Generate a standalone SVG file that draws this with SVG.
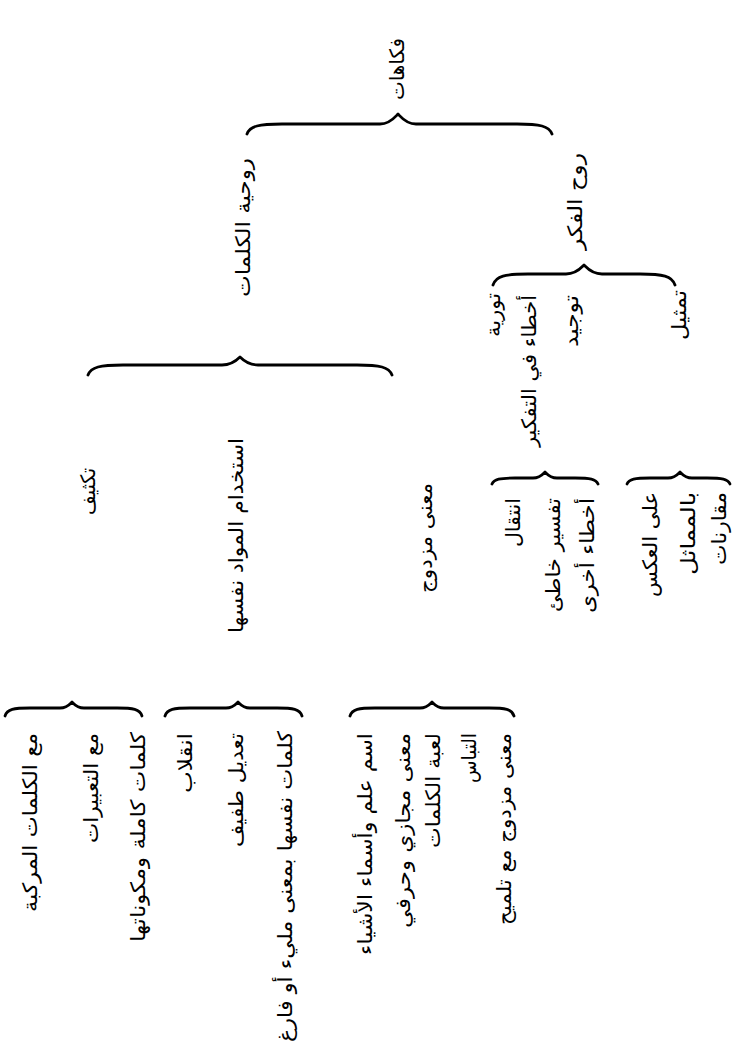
<svg xmlns="http://www.w3.org/2000/svg" width="733" height="1053" viewBox="0 0 733 1053">
<style>
.t{font-family:"DejaVu Sans",sans-serif;font-size:20px;fill:#000;text-anchor:end}
.b{fill:none;stroke:#000;stroke-width:2.8;stroke-linecap:round;stroke-linejoin:round}
</style>
<rect width="733" height="1053" fill="#fff"/>
<g id="connectors">
<path class="b" d="M247,134 C250,126 259,124 282,124 L380,124 C390,124 395,117 398,114 C401,117 406,124 416,124 L517,124 C540,124 549,126 552,134"/>
<path class="b" d="M493,285 C496,276 505,274 528,274 L566,274 C576,274 581,268 584,265 C587,268 592,274 602,274 L640,274 C663,274 672,276 675,285"/>
<path class="b" d="M88,375 C91,367 100,365 123,365 L222,365 C232,365 237,360 240,357 C243,360 248,365 258,365 L357,365 C380,365 389,367 392,375"/>
<path class="b" d="M492,484 C494,479 500,478 515,478 L533,478 C540,478 543,474 545,472 C547,474 550,478 557,478 L575,478 C590,478 596,479 598,484"/>
<path class="b" d="M627,484 C629,479 635,478 650,478 L668,478 C675,478 678,474 680,472 C682,474 685,478 692,478 L707,478 C722,478 728,479 730,484"/>
<path class="b" d="M5,716 C7,709 14,708 30,708 L60,708 C67,708 70,704 72,702 C74,704 77,708 84,708 L117,708 C133,708 140,709 142,716"/>
<path class="b" d="M165,716 C167,709 174,708 190,708 L226,708 C233,708 236,704 238,702 C240,704 243,708 250,708 L277,708 C293,708 300,709 302,716"/>
<path class="b" d="M350,716 C352,709 359,708 375,708 L420,708 C427,708 430,704 432,702 C434,704 437,708 444,708 L489,708 C505,708 512,709 514,716"/>
</g>
<g id="n-root"><text class="t" transform="translate(404,38) rotate(-90)" textLength="62" lengthAdjust="spacingAndGlyphs">فكاهات</text></g>
<g id="n-ruh-alfikr"><text class="t" transform="translate(582,153) rotate(-90)" textLength="97" lengthAdjust="spacingAndGlyphs">روح الفكر</text></g>
<g id="n-ruhiya"><text class="t" transform="translate(250,158) rotate(-90)" textLength="139" lengthAdjust="spacingAndGlyphs">روحية الكلمات</text></g>
<g id="n-tawriya"><text class="t" transform="translate(500,293) rotate(-90)" textLength="44" lengthAdjust="spacingAndGlyphs">تورية</text></g>
<g id="n-akhta"><text class="t" transform="translate(536,295) rotate(-90)" textLength="152" lengthAdjust="spacingAndGlyphs">أخطاء في التفكير</text></g>
<g id="n-tawjid"><text class="t" transform="translate(578,295) rotate(-90)" textLength="52" lengthAdjust="spacingAndGlyphs">توجيد</text></g>
<g id="n-tamthil"><text class="t" transform="translate(686,290) rotate(-90)" textLength="50" lengthAdjust="spacingAndGlyphs">تمثيل</text></g>
<g id="n-intiqal"><text class="t" transform="translate(520,498) rotate(-90)" textLength="49" lengthAdjust="spacingAndGlyphs">انتقال</text></g>
<g id="n-tafsir"><text class="t" transform="translate(560,498) rotate(-90)" textLength="114" lengthAdjust="spacingAndGlyphs">تفسير خاطئ</text></g>
<g id="n-akhta-ukhra"><text class="t" transform="translate(594,498) rotate(-90)" textLength="115" lengthAdjust="spacingAndGlyphs">أخطاء أخرى</text></g>
<g id="n-ala-alaks"><text class="t" transform="translate(657,492) rotate(-90)" textLength="105" lengthAdjust="spacingAndGlyphs">على العكس</text></g>
<g id="n-bilmumathil"><text class="t" transform="translate(695,492) rotate(-90)" textLength="83" lengthAdjust="spacingAndGlyphs">بالمماثل</text></g>
<g id="n-muqaranat"><text class="t" transform="translate(726,492) rotate(-90)" textLength="73" lengthAdjust="spacingAndGlyphs">مقارنات</text></g>
<g id="n-takthif"><text class="t" transform="translate(95,468) rotate(-90)" textLength="47" lengthAdjust="spacingAndGlyphs">تكثيف</text></g>
<g id="n-istikhdam"><text class="t" transform="translate(243,438) rotate(-90)" textLength="195" lengthAdjust="spacingAndGlyphs">استخدام المواد نفسها</text></g>
<g id="n-mana-muzdawaj"><text class="t" transform="translate(432,483) rotate(-90)" textLength="110" lengthAdjust="spacingAndGlyphs">معنى مزدوج</text></g>
<g id="n-murakkaba"><text class="t" transform="translate(37,733) rotate(-90)" textLength="179" lengthAdjust="spacingAndGlyphs">مع الكلمات المركبة</text></g>
<g id="n-tabirat"><text class="t" transform="translate(98,733) rotate(-90)" textLength="110" lengthAdjust="spacingAndGlyphs">مع التعبيرات</text></g>
<g id="n-kamila"><text class="t" transform="translate(145,732) rotate(-90)" textLength="210" lengthAdjust="spacingAndGlyphs">كلمات كاملة ومكوناتها</text></g>
<g id="n-inqilab"><text class="t" transform="translate(192,733) rotate(-90)" textLength="60" lengthAdjust="spacingAndGlyphs">انقلاب</text></g>
<g id="n-tadil"><text class="t" transform="translate(243,733) rotate(-90)" textLength="114" lengthAdjust="spacingAndGlyphs">تعديل طفيف</text></g>
<g id="n-nafsuha"><text class="t" transform="translate(292,731) rotate(-90)" textLength="311" lengthAdjust="spacingAndGlyphs">كلمات نفسها بمعنى مليء أو فارغ</text></g>
<g id="n-ism"><text class="t" transform="translate(372,733) rotate(-90)" textLength="222" lengthAdjust="spacingAndGlyphs">اسم علم وأسماء الأشياء</text></g>
<g id="n-majazi"><text class="t" transform="translate(410,733) rotate(-90)" textLength="195" lengthAdjust="spacingAndGlyphs">معنى مجازي وحرفي</text></g>
<g id="n-luba"><text class="t" transform="translate(440,733) rotate(-90)" textLength="115" lengthAdjust="spacingAndGlyphs">لعبة الكلمات</text></g>
<g id="n-iltibas"><text class="t" transform="translate(476,733) rotate(-90)" textLength="50" lengthAdjust="spacingAndGlyphs">التباس</text></g>
<g id="n-talmih"><text class="t" transform="translate(511,733) rotate(-90)" textLength="192" lengthAdjust="spacingAndGlyphs">معنى مزدوج مع تلميح</text></g>
</svg>
